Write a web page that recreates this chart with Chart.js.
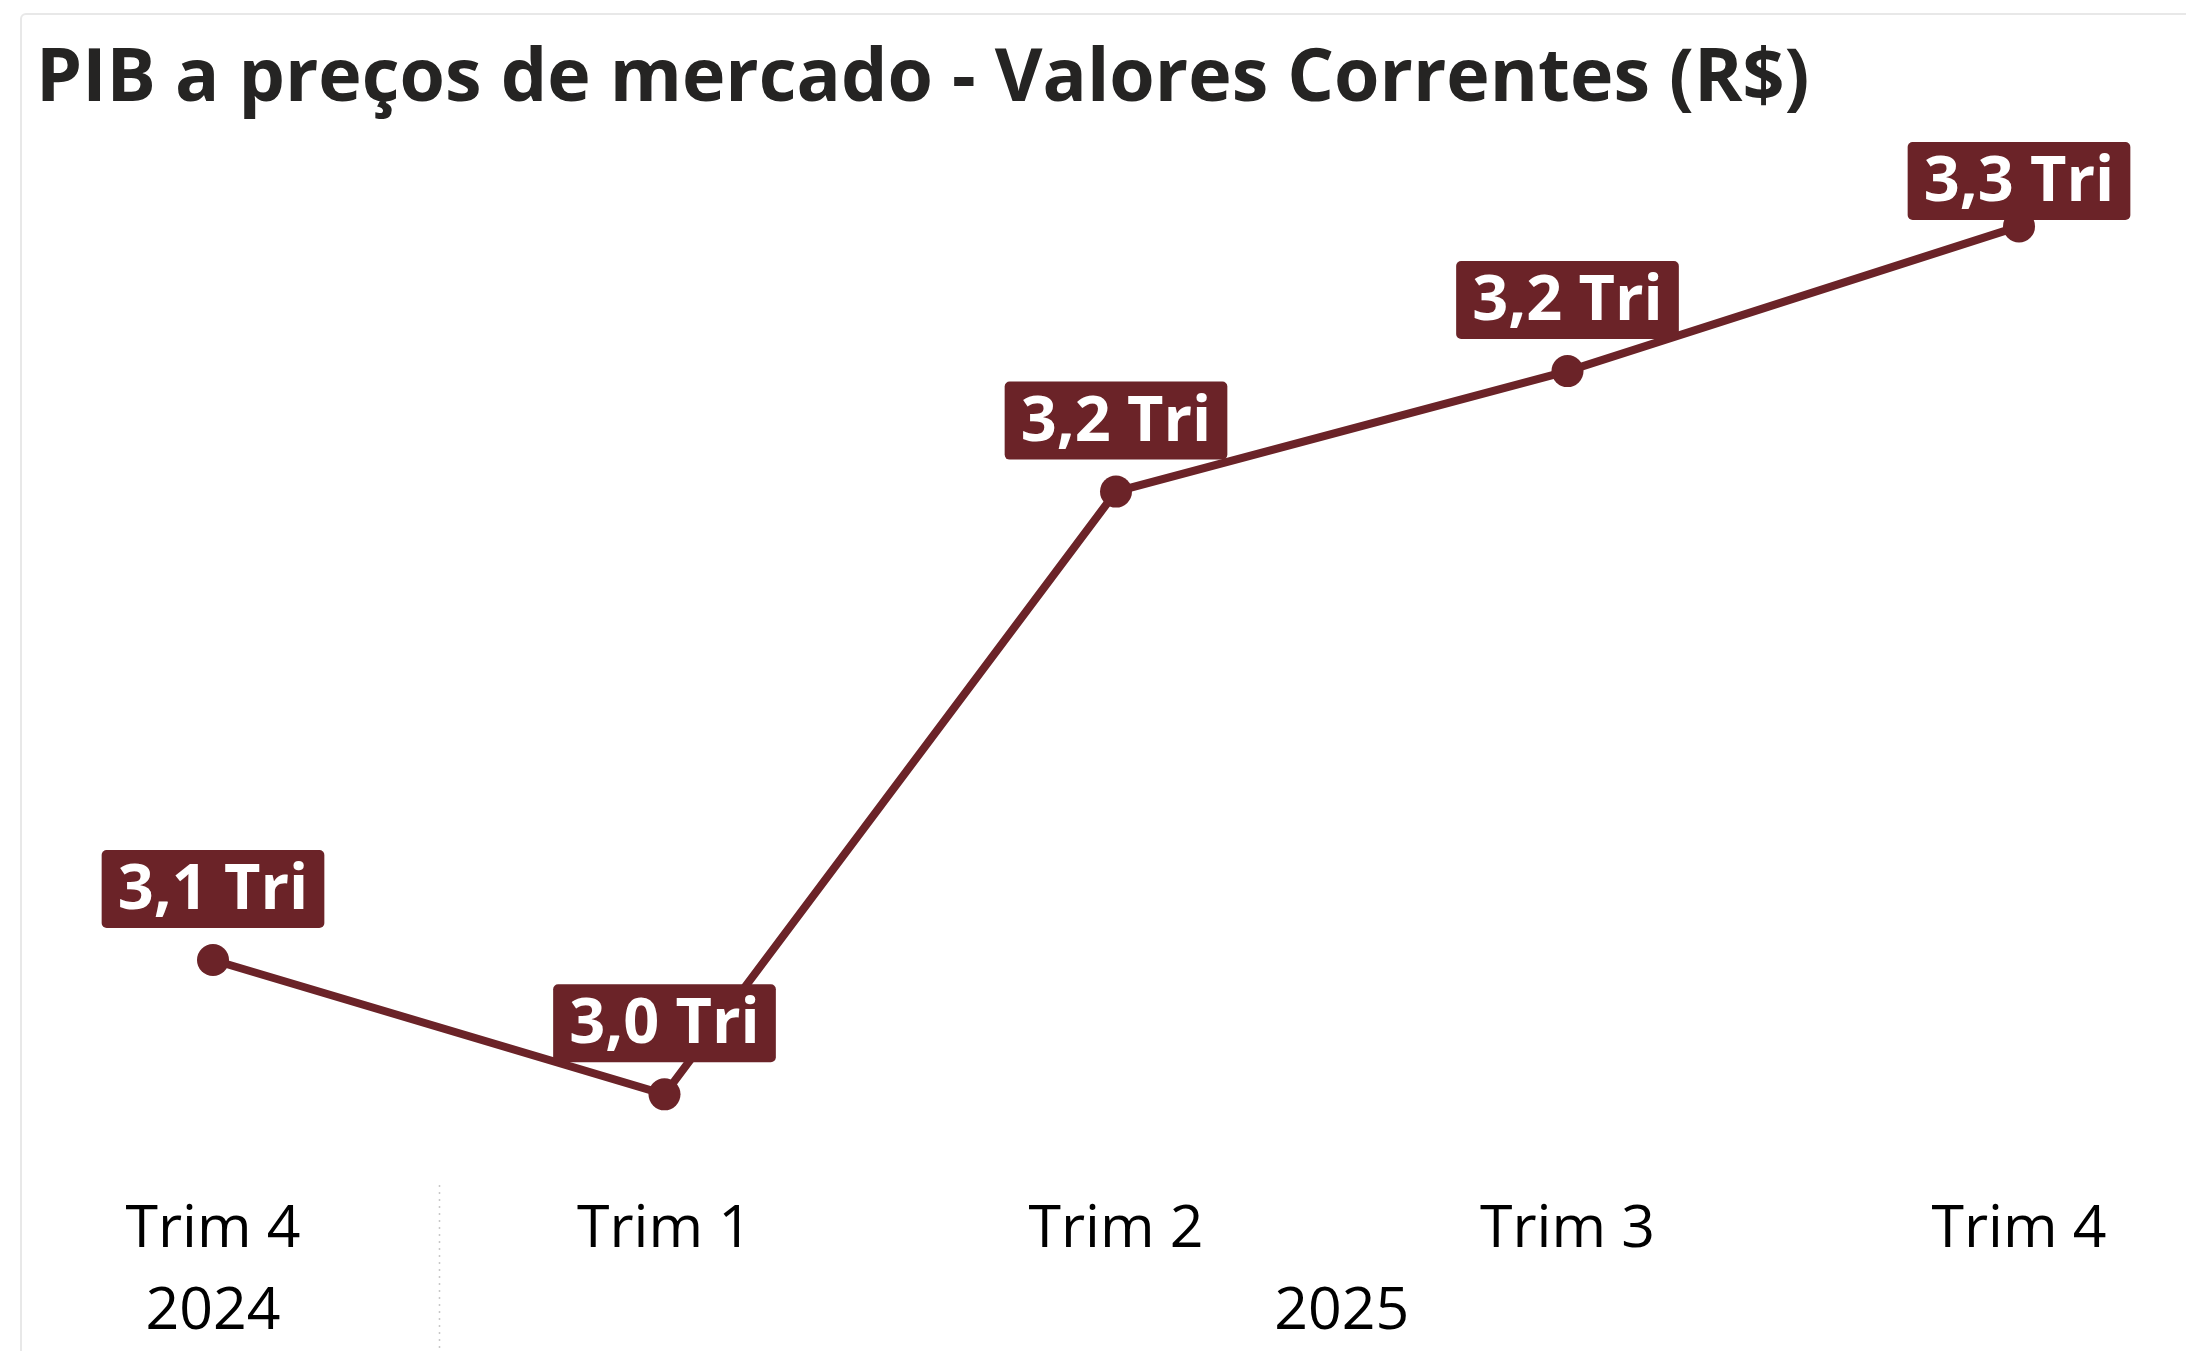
<!DOCTYPE html>
<html lang="pt-BR">
<head>
<meta charset="utf-8">
<title>PIB a preços de mercado</title>
<script src="https://cdn.jsdelivr.net/npm/chart.js@4.4.1/dist/chart.umd.min.js"></script>
<style>
  html, body { margin: 0; padding: 0; background: #fff; overflow: hidden; }
  #frame { position: absolute; left: 20px; top: 13px; width: 2220px; height: 1400px;
           border: 2px solid #e8e8e8; border-radius: 6px; box-sizing: border-box; }
  #title { position: absolute; left: 36px; top: 22px; margin: 0; white-space: nowrap;
           font: 700 73.5px 'Open Sans', sans-serif; color: #252423; }
  #chart { position: absolute; left: 0; top: 0; }
</style>
</head>
<body>
<div id="frame"></div>
<h1 id="title">PIB a preços de mercado - Valores Correntes (R$)</h1>
<canvas id="chart" width="2186" height="1351"></canvas>
<script>
// dados (R$ trilhões)
const quarters = ['Trim 4', 'Trim 1', 'Trim 2', 'Trim 3', 'Trim 4'];
const years    = ['2024', '2025', '2025', '2025', '2025'];
const pib      = [3.059, 3.020, 3.195, 3.230, 3.272];
const Y_MIN = 3.0;
const Y_MAX = 3.3;

const WINE = '#6b2328';
const FONT = "'Open Sans', sans-serif";

const fmt = v => v.toFixed(1).replace('.', ',') + ' Tri';

// etiquetas com fundo vinho em cima de cada ponto
const valueTags = {
  id: 'valueTags',
  afterDatasetsDraw(chart) {
    const ctx = chart.ctx;
    const meta = chart.getDatasetMeta(0);
    ctx.save();
    ctx.font = `700 63px ${FONT}`;
    ctx.textAlign = 'center';
    ctx.textBaseline = 'middle';
    meta.data.forEach((pt, i) => {
      const text = fmt(pib[i]);
      const w = ctx.measureText(text).width + 32;
      const h = 78;
      const top = Math.max(pt.y - 32 - h, 142);
      ctx.fillStyle = WINE;
      ctx.beginPath();
      ctx.roundRect(pt.x - w / 2, top, w, h, 5);
      ctx.fill();
      ctx.fillStyle = '#fff';
      ctx.fillText(text, pt.x, top + h / 2 + 2);
    });
    ctx.restore();
  }
};

// segunda linha do eixo: anos agrupados + separador pontilhado
const yearRow = {
  id: 'yearRow',
  afterDraw(chart) {
    const ctx = chart.ctx;
    const x = chart.scales.x;
    const groups = [];
    years.forEach((y, i) => {
      const g = groups[groups.length - 1];
      if (g && g.year === y) g.last = i;
      else groups.push({ year: y, first: i, last: i });
    });
    ctx.save();
    ctx.font = `500 59px ${FONT}`;
    ctx.fillStyle = '#000';
    ctx.textAlign = 'center';
    ctx.textBaseline = 'middle';
    groups.forEach((g, k) => {
      const cx = (x.getPixelForValue(g.first) + x.getPixelForValue(g.last)) / 2;
      ctx.fillText(g.year, cx, 1312);
      if (k > 0) {
        const sx = Math.round((x.getPixelForValue(g.first - 1) + x.getPixelForValue(g.first)) / 2) + 0.5;
        ctx.strokeStyle = '#c8c8c8';
        ctx.lineWidth = 1.5;
        ctx.setLineDash([2, 5]);
        ctx.beginPath();
        ctx.moveTo(sx, 1185);
        ctx.lineTo(sx, 1351);
        ctx.stroke();
      }
    });
    ctx.restore();
  }
};

new Chart(document.getElementById('chart'), {
  type: 'line',
  data: {
    labels: quarters,
    datasets: [{
      data: pib,
      borderColor: WINE,
      backgroundColor: WINE,
      borderWidth: 8,
      pointRadius: 16,
      pointHoverRadius: 16,
      pointBorderWidth: 0,
      tension: 0,
      clip: false
    }]
  },
  options: {
    responsive: false,
    animation: false,
    layout: { padding: { left: 213, right: 167, top: 130, bottom: 61 } },
    scales: {
      x: {
        offset: false,
        grid: { display: false },
        border: { display: false },
        ticks: { color: '#000', font: { family: FONT, size: 59, weight: 500 }, padding: 24, maxRotation: 0 }
      },
      y: { display: false, min: Y_MIN, max: Y_MAX }
    },
    plugins: {
      legend: { display: false },
      tooltip: { enabled: false },
      title: { display: false }
    }
  },
  plugins: [valueTags, yearRow]
});
</script>
</body>
</html>
